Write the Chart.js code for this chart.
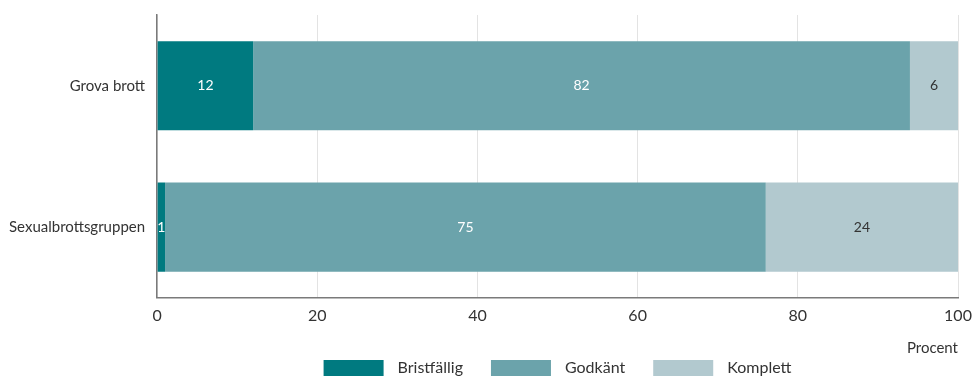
<!DOCTYPE html>
<html lang="sv">
<head>
<meta charset="utf-8">
<title>Procent</title>
<script src="https://cdn.jsdelivr.net/npm/chart.js@4.4.0/dist/chart.umd.min.js"></script>
<style>
  html, body { margin: 0; padding: 0; background: #fff; overflow: hidden; }
  #wrap { width: 972px; height: 376px; position: relative; }
</style>
</head>
<body>
<div id="wrap"><canvas id="chart"></canvas></div>
<script>
var categories = ["Grova brott", "Sexualbrottsgruppen"];
var bristfallig = [12, 1];
var godkant = [82, 75];
var komplett = [6, 24];
var xTicks = [0, 20, 40, 60, 80, 100];

var fontFamily = "Lato, 'Noto Sans', sans-serif";

// labels inside each bar segment
var segmentLabels = {
  id: 'segmentLabels',
  afterDatasetsDraw: function(chart) {
    var ctx = chart.ctx;
    ctx.save();
    ctx.font = "14px " + fontFamily;
    ctx.textAlign = 'center';
    ctx.textBaseline = 'middle';
    chart.data.datasets.forEach(function(ds, i) {
      var meta = chart.getDatasetMeta(i);
      meta.data.forEach(function(bar, j) {
        ctx.fillStyle = ds.labelColor;
        ctx.fillText(String(ds.data[j]), (bar.x + bar.base) / 2, bar.y);
      });
    });
    ctx.restore();
  }
};

// legend centred under the plot area, like the original
var bottomLegend = {
  id: 'bottomLegend',
  afterDraw: function(chart) {
    var ctx = chart.ctx;
    var area = chart.chartArea;
    var boxW = 60, boxH = 17, textGap = 14, itemGap = 28;
    ctx.save();
    ctx.font = "16px " + fontFamily;
    var items = chart.data.datasets.map(function(ds) {
      return { text: ds.label, color: ds.backgroundColor, w: ctx.measureText(ds.label).width };
    });
    var total = 0;
    items.forEach(function(it, i) {
      total += boxW + textGap + it.w + (i < items.length - 1 ? itemGap : 0);
    });
    var x = (area.left + area.right) / 2 - total / 2;
    var y = chart.scales.x.bottom + 3;
    ctx.textBaseline = 'middle';
    ctx.textAlign = 'left';
    items.forEach(function(it) {
      ctx.fillStyle = it.color;
      ctx.fillRect(x, y, boxW, boxH);
      ctx.fillStyle = '#333';
      ctx.fillText(it.text, x + boxW + textGap, y + boxH / 2 - 1);
      x += boxW + textGap + it.w + itemGap;
    });
    ctx.restore();
  }
};

new Chart(document.getElementById('chart'), {
  type: 'bar',
  data: {
    labels: categories,
    datasets: [
      { label: 'Bristfällig', data: bristfallig, backgroundColor: '#007a80', labelColor: '#ffffff' },
      { label: 'Godkänt', data: godkant, backgroundColor: '#6ba3ab', labelColor: '#ffffff' },
      { label: 'Komplett', data: komplett, backgroundColor: '#b2c9cf', labelColor: '#333333' }
    ]
  },
  options: {
    indexAxis: 'y',
    responsive: true,
    maintainAspectRatio: false,
    animation: false,
    datasets: { bar: { categoryPercentage: 1, barPercentage: 0.63, borderWidth: 0 } },
    layout: { padding: { left: -3, right: 14, top: 15, bottom: 19 } },
    scales: {
      x: {
        stacked: true,
        min: 0, max: 100,
        afterBuildTicks: function(axis) { axis.ticks = xTicks.map(function(v) { return { value: v }; }); },
        afterFit: function(axis) { axis.paddingRight = 0; },
        grid: { color: '#e3e3e3', drawTicks: false },
        border: { color: '#7a7a7a', width: 1.5 },
        ticks: { color: '#333', font: { family: fontFamily, size: 16 }, padding: 8 },
        title: { display: true, text: 'Procent', align: 'end', color: '#333',
                 font: { family: fontFamily, size: 15 }, padding: { top: 6, bottom: 0 } }
      },
      y: {
        stacked: true,
        afterFit: function(axis) { axis.paddingTop = 0; axis.paddingBottom = 0; },
        grid: { display: false, drawTicks: false },
        border: { color: '#7a7a7a', width: 1.5 },
        ticks: { color: '#333', font: { family: fontFamily, size: 15 }, padding: 12 }
      }
    },
    plugins: {
      legend: { display: false },
      tooltip: { enabled: false }
    }
  },
  plugins: [segmentLabels, bottomLegend]
});
</script>
</body>
</html>
